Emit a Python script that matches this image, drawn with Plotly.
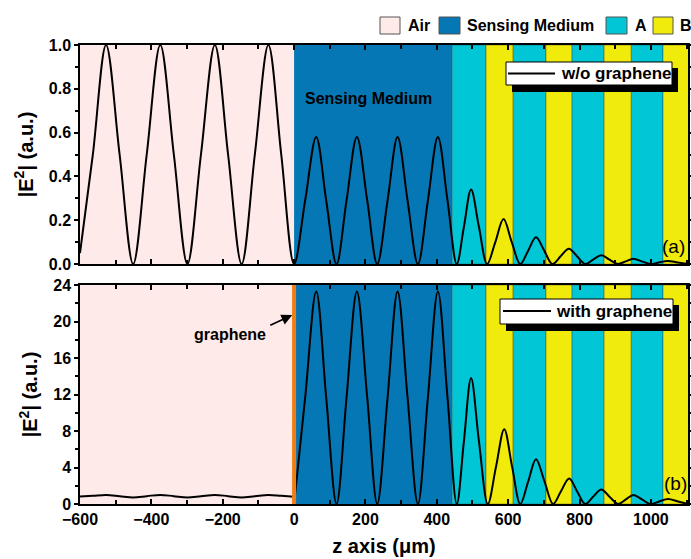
import plotly.graph_objects as go
from plotly.subplots import make_subplots

# ---------------- data ----------------
layer_names = ["Air", "Sensing Medium", "A", "B", "A", "B", "A", "B", "A", "B"]
layer_start = [-600, 0, 443, 538, 614, 706, 779, 869, 945, 1034]
layer_end = [0, 443, 538, 614, 706, 779, 869, 945, 1034, 1120]
layer_colors = {"Air": "#FFEAEA", "Sensing Medium": "#0677B5", "A": "#00C6D6", "B": "#F0EB0A"}

# |E^2| without graphene (panel a)
z_wo = [-600, -564, -527, -489, -451, -413, -375, -337, -299, -261, -222, -185, -147, -110, -72, -36, 0,
        31, 62, 90, 119, 147, 176, 205, 233, 262, 290, 318, 347, 375, 403, 430, 456,
        476, 496, 518, 541, 564, 587, 610, 634, 656, 678, 701, 724, 747, 770, 793, 816,
        838, 861, 884, 907, 929, 951, 975, 998, 1022, 1047, 1075, 1104]
e_wo = [0.05, 0.5, 1.0, 0.5, 0.0, 0.5, 1.0, 0.5, 0.0, 0.5, 1.0, 0.5, 0.0, 0.5, 1.0, 0.5, 0.0,
        0.29, 0.58, 0.29, 0.0, 0.29, 0.58, 0.29, 0.0, 0.29, 0.58, 0.29, 0.0, 0.29, 0.58, 0.29, 0.0,
        0.17, 0.34, 0.17, 0.0, 0.10, 0.205, 0.10, 0.0, 0.061, 0.122, 0.061, 0.0, 0.035, 0.07, 0.035, 0.0,
        0.02, 0.04, 0.02, 0.0, 0.012, 0.024, 0.012, 0.0, 0.007, 0.014, 0.007, 0.0]

# |E^2| with graphene (panel b); None marks the jump at the graphene sheet
z_w = [-600, -564, -527, -489, -451, -413, -375, -337, -299, -261, -222, -185, -147, -110, -72, -36, 0,
       None,
       0, 31, 62, 90, 119, 147, 176, 205, 233, 262, 290, 318, 347, 375, 403, 430, 456,
       476, 496, 518, 543, 566, 589, 611, 634, 656, 678, 702, 726, 748, 771, 793, 816,
       838, 861, 884, 908, 930, 951, 975, 998, 1023, 1048, 1076, 1104]
e_w = [0.82, 0.9, 1.0, 0.86, 0.72, 0.86, 1.0, 0.86, 0.72, 0.86, 1.0, 0.86, 0.72, 0.86, 1.0, 0.9, 0.8,
       None,
       0.0, 11.65, 23.3, 11.65, 0.0, 11.65, 23.3, 11.65, 0.0, 11.65, 23.3, 11.65, 0.0, 11.65, 23.3, 11.65, 0.0,
       6.9, 13.8, 6.9, 0.0, 4.1, 8.2, 4.1, 0.0, 2.45, 4.9, 2.45, 0.0, 1.4, 2.8, 1.4, 0.0,
       0.8, 1.6, 0.8, 0.0, 0.5, 1.0, 0.5, 0.0, 0.28, 0.55, 0.28, 0.0]

graphene_z = 0
x_range = [-600, 1104]
x_ticks = [-600, -400, -200, 0, 200, 400, 600, 800, 1000]
y_top_ticks = [0.0, 0.2, 0.4, 0.6, 0.8, 1.0]
y_bot_ticks = [0, 4, 8, 12, 16, 20, 24]

# ---------------- layout helpers (pixel -> paper) ----------------
W, H = 691, 559
PL, PR, PT, PB = 80, 688, 45, 504


def px(x):
    return (x - PL) / (PR - PL)


def py(y):
    return (PB - y) / (PB - PT)


FONT = "Liberation Sans, Arial, sans-serif"

fig = make_subplots(rows=2, cols=1, shared_xaxes=True, vertical_spacing=0.04)

fig.add_trace(go.Scatter(x=z_wo, y=e_wo, mode="lines", name="w/o graphene",
                         line=dict(color="black", width=2, shape="spline", smoothing=1.0),
                         showlegend=False), row=1, col=1)
fig.add_trace(go.Scatter(x=z_w, y=e_w, mode="lines", name="with graphene", connectgaps=False,
                         line=dict(color="black", width=2, shape="spline", smoothing=1.0),
                         showlegend=False), row=2, col=1)

shapes = []
for yref in ["y domain", "y2 domain"]:
    xref = "x" if yref == "y domain" else "x2"
    for name, a, b in zip(layer_names, layer_start, layer_end):
        shapes.append(dict(type="rect", xref=xref, yref=yref, x0=a, x1=b, y0=0, y1=1,
                           fillcolor=layer_colors[name], layer="below",
                           line=dict(width=0.6, color="rgba(40,40,40,0.6)") if name in ("A", "B") else dict(width=0)))

# graphene sheet
shapes.append(dict(type="line", xref="x2", yref="y2 domain", x0=graphene_z, x1=graphene_z, y0=0, y1=1,
                   line=dict(color="#F07D14", width=4), layer="above"))

# top legend (layer colours)
leg_items = [("Air", 380, 400, 406), ("Sensing Medium", 439, 460, 465), ("A", 606, 627, 633), ("B", 653, 673, 678)]
annotations = []
for name, s0, s1, tx in leg_items:
    shapes.append(dict(type="rect", xref="paper", yref="paper", x0=px(s0), x1=px(s1), y0=py(34), y1=py(17),
                       fillcolor=layer_colors[name], line=dict(color="#555555", width=1)))
    annotations.append(dict(xref="paper", yref="paper", x=px(tx), y=py(25), text=name, showarrow=False,
                            xanchor="left", yanchor="middle", font=dict(family=FONT, size=16, color="black", weight="bold")))

# in-panel line legends with shadow
for (bx0, bx1, by0, by1, lx0, lx1, ly, tx, label) in [
        (506, 672, 62, 85, 508, 555, 73.5, 559, "w/o graphene"),
        (500, 673, 299, 324, 503, 551, 311, 554, "with graphene")]:
    shapes.append(dict(type="rect", xref="paper", yref="paper", x0=px(bx0 + 6), x1=px(bx1 + 6),
                       y0=py(by1 + 7), y1=py(by0 + 6), fillcolor="black", line=dict(width=0)))
    shapes.append(dict(type="rect", xref="paper", yref="paper", x0=px(bx0), x1=px(bx1),
                       y0=py(by1), y1=py(by0), fillcolor="white", line=dict(color="black", width=1)))
    shapes.append(dict(type="line", xref="paper", yref="paper", x0=px(lx0), x1=px(lx1),
                       y0=py(ly), y1=py(ly), line=dict(color="black", width=2)))
    annotations.append(dict(xref="paper", yref="paper", x=px(tx), y=py(ly + 0.5), text=label, showarrow=False,
                            xanchor="left", yanchor="middle", font=dict(family=FONT, size=17, color="black", weight="bold")))

annotations += [
    dict(xref="paper", yref="paper", x=px(303), y=py(98), text="Sensing Medium", showarrow=False,
         xanchor="left", yanchor="middle", font=dict(family=FONT, size=16, color="black", weight="bold")),
    dict(xref="paper", yref="paper", x=px(687), y=py(246), text="(a)", showarrow=False,
         xanchor="right", yanchor="middle", font=dict(family=FONT, size=19, color="black")),
    dict(xref="paper", yref="paper", x=px(689), y=py(483), text="(b)", showarrow=False,
         xanchor="right", yanchor="middle", font=dict(family=FONT, size=19, color="black")),
    dict(xref="paper", yref="paper", x=px(230), y=py(334), text="graphene", showarrow=False,
         xanchor="center", yanchor="middle", font=dict(family=FONT, size=16, color="black", weight="bold")),
    dict(xref="x2", yref="y2", x=-5, y=20.7, ax=-24, ay=11, text=" ", showarrow=True,
         arrowhead=2, arrowsize=1.2, arrowwidth=1.8, arrowcolor="black", font=dict(size=2)),
]

tickfont = dict(family=FONT, size=16, color="black", weight="bold")
common_axis = dict(showline=True, linecolor="black", linewidth=1.5, mirror="ticks", showgrid=False,
                   zeroline=False, automargin=False)

fig.update_xaxes(range=x_range, tickvals=x_ticks, ticks="inside", ticklen=5, tickwidth=1.5, tickcolor="black",
                 minor=dict(dtick=100, tick0=0, ticks="inside", ticklen=4, tickcolor="black", tickwidth=1.5),
                 tickfont=tickfont, **common_axis)
fig.update_xaxes(showticklabels=False, row=1, col=1)
fig.update_xaxes(title=dict(text="z axis (μm)", font=dict(family=FONT, size=20, color="black", weight="bold"), standoff=12),
                 row=2, col=1)

fig.update_yaxes(ticks="outside", ticklen=4, tickwidth=1.5, tickcolor="black", tickfont=tickfont, **common_axis)
fig.update_yaxes(range=[0, 1.0], tickvals=y_top_ticks, ticktext=["%.1f" % v for v in y_top_ticks],
                 minor=dict(dtick=0.1, tick0=0, ticks="outside", ticklen=3, tickcolor="black", tickwidth=1.5),
                 title=dict(text="|E<sup>2</sup>| (a.u.)", font=dict(family=FONT, size=20, color="black", weight="bold"), standoff=10),
                 domain=[py(264), 1.0], row=1, col=1)
fig.update_yaxes(range=[0, 24], tickvals=y_bot_ticks,
                 minor=dict(dtick=2, tick0=0, ticks="outside", ticklen=3, tickcolor="black", tickwidth=1.5),
                 title=dict(text="|E<sup>2</sup>| (a.u.)", font=dict(family=FONT, size=20, color="black", weight="bold"), standoff=10),
                 domain=[0.0, py(285)], row=2, col=1)

fig.update_layout(width=W, height=H, margin=dict(l=PL, r=W - PR, t=PT, b=H - PB, autoexpand=False),
                  paper_bgcolor="white", plot_bgcolor="white", shapes=shapes, annotations=annotations,
                  font=dict(family=FONT, color="black"), showlegend=False)

fig.write_html("out.html")
